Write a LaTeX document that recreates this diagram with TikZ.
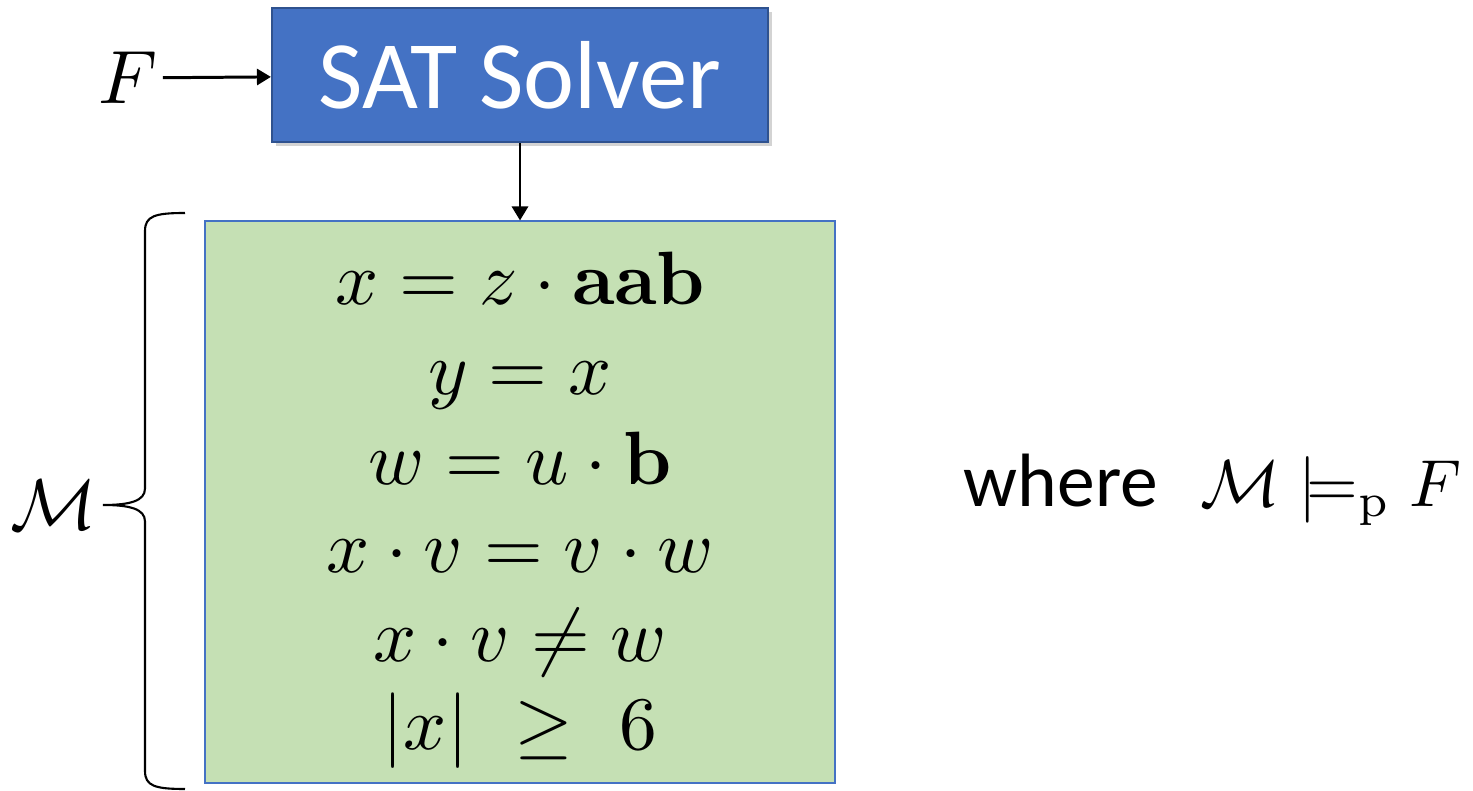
\documentclass[tikz,border=0pt]{standalone}
\usepackage[no-math]{fontspec}
\usepackage{amsmath}
\usepackage{tikz}
\usetikzlibrary{arrows.meta,positioning,shadows}
\newfontfamily\calibri{Carlito}
\definecolor{solverblue}{HTML}{4472C4}
\definecolor{solveredge}{HTML}{2F528F}
\definecolor{modelgreen}{HTML}{C5E0B4}

\begin{document}
\begin{tikzpicture}[
  solver/.style={draw=solveredge, line width=1.2pt, fill=solverblue, minimum width=9.92cm, minimum height=2.68cm,
    text=white, font=\calibri\fontsize{55}{64}\selectfont, drop shadow={shadow xshift=0.08cm, shadow yshift=-0.08cm, opacity=0.35}},
  modelbox/.style={draw=solverblue, line width=0.6pt, fill=modelgreen, minimum width=12.6cm, minimum height=11.24cm},
  eqn/.style={scale=4.3, inner sep=0.5pt},
  arr/.style={-{Triangle[length=0.28cm, width=0.32cm]}, line width=1.7pt},
  >=Triangle
]
\useasboundingbox (0,0) rectangle (29.46,15.82);

% SAT solver and its input
\node[solver] (sat) at (10.40, 14.32) {SAT Solver};
\node[eqn] (formula) at (2.56, 14.26) {$F$};
\draw[arr] (formula) -- (sat);

% Model box
\node[modelbox] (model) at (10.40, 5.78) {};
\draw[arr] (sat) -- (model);

% Equations in the model
\foreach \y/\eq [count=\i] in {9.72/{x = z\cdot\mathbf{aab}}, 7.92/{y = x}, 6.12/{w = u\cdot\mathbf{b}},
    4.36/{x\cdot v = v\cdot w}, 2.58/{x\cdot v \neq w}, 0.82/{|x|\ \geq\ 6}} {
  \node[eqn, anchor=base] (eq\i) at (10.40, \y) {$\eq$};
}

% Brace around the model
\coordinate (btop) at (3.70, 11.56);
\coordinate (bbot) at (3.70, 0.04);
\coordinate (btip) at (2.06, 5.72);
\draw[line width=1.2pt] (btop) .. controls (3.1, 11.56) and (2.90, 11.50) .. (2.90, 11.20)
  -- (2.90, 6.05) .. controls (2.90, 5.80) and (2.60, 5.72) .. (btip)
  .. controls (2.60, 5.72) and (2.90, 5.64) .. (2.90, 5.39)
  -- (2.90, 0.40) .. controls (2.90, 0.10) and (3.1, 0.04) .. (bbot);
\node[eqn, scale=0.95, left=0.02cm of btip] (mlabel) {$\mathcal{M}$};

% Satisfaction relation
\coordinate (redge) at (29.32, 0);
\node[font=\calibri\fontsize{43}{50}\selectfont, anchor=west] (where) at (19.15, 6.20) {where};
\node[eqn, scale=0.88, anchor=base east] (relation) at (where.base -| redge) {$\mathcal{M}\models_{\mathrm{p}} F$};

\end{tikzpicture}
\end{document}
